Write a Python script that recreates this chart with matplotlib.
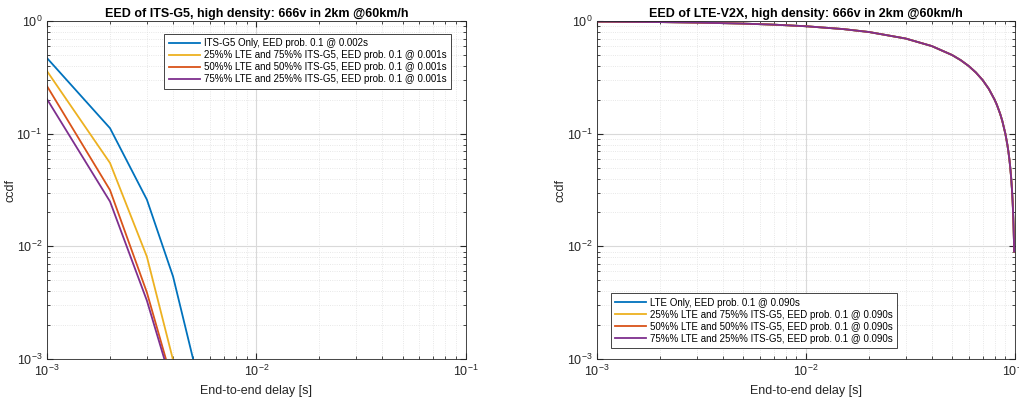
import numpy as np
from matplotlib import pyplot as plt

plt.rcParams['font.family'] = ['Liberation Sans', 'DejaVu Sans']

# MATLAB default line colours
colors = ['#0072BD', '#EDB120', '#D95319', '#7E2F8E']

# left panel: ITS-G5
x_its = [0.001, 0.002, 0.003, 0.004, 0.005]
its_only = [0.47, 0.112, 0.026, 0.0054, 0.00098]
its_25lte = [0.36, 0.055, 0.0081, 0.00098]
its_50lte = [0.265, 0.0316, 0.0039, 0.0006]
its_75lte = [0.203, 0.025, 0.0033, 0.00055]
labels_its = ['ITS-G5 Only, EED prob. 0.1 @ 0.002s',
              '25%% LTE and 75%% ITS-G5, EED prob. 0.1 @ 0.001s',
              '50%% LTE and 50%% ITS-G5, EED prob. 0.1 @ 0.001s',
              '75%% LTE and 25%% ITS-G5, EED prob. 0.1 @ 0.001s']

# right panel: LTE-V2X (all four curves coincide)
x_lte = [0.001, 0.002, 0.003, 0.005, 0.007, 0.01, 0.015, 0.02, 0.03, 0.04, 0.05,
         0.055, 0.06, 0.065, 0.07, 0.075, 0.08, 0.082, 0.085, 0.087, 0.09, 0.092,
         0.093, 0.094, 0.095, 0.096, 0.097, 0.0975, 0.098, 0.0985, 0.099, 0.0991]
lte_ccdf = [0.99, 0.98, 0.97, 0.95, 0.93, 0.90, 0.85, 0.80, 0.70, 0.60, 0.50,
            0.45, 0.40, 0.35, 0.30, 0.25, 0.20, 0.18, 0.15, 0.13, 0.10, 0.08,
            0.07, 0.06, 0.05, 0.04, 0.03, 0.025, 0.02, 0.015, 0.0105, 0.009]
labels_lte = ['LTE Only, EED prob. 0.1 @ 0.090s',
              '25%% LTE and 75%% ITS-G5, EED prob. 0.1 @ 0.090s',
              '50%% LTE and 50%% ITS-G5, EED prob. 0.1 @ 0.090s',
              '75%% LTE and 25%% ITS-G5, EED prob. 0.1 @ 0.090s']

fig = plt.figure(figsize=(10.19, 3.98), dpi=100)
ax1 = fig.add_axes([0.0461, 0.098, 0.411, 0.849])
ax2 = fig.add_axes([0.586, 0.098, 0.410, 0.849])


def style(ax, title):
    ax.set_xscale('log')
    ax.set_yscale('log')
    ax.set_xlim(1e-3, 1e-1)
    ax.set_ylim(1e-3, 1)
    ax.grid(True, which='major', color='#d9d9d9', linewidth=0.8)
    ax.grid(True, which='minor', color='#e0e0e0', linestyle=':', linewidth=0.6)
    ax.set_axisbelow(True)
    ax.tick_params(which='both', direction='in', top=True, right=True,
                   colors='#262626', labelsize=9)
    ax.tick_params(which='major', length=4)
    ax.tick_params(which='minor', length=2)
    for s in ax.spines.values():
        s.set_color('#262626')
        s.set_linewidth(0.6)
    ax.set_title(title, fontsize=9, fontweight='bold', pad=3)
    ax.set_xlabel('End-to-end delay [s]', fontsize=9, color='#262626')
    ax.set_ylabel('ccdf', fontsize=9, color='#262626', labelpad=0)


def legend(ax, **kw):
    leg = ax.legend(fontsize=7, fancybox=False, edgecolor='#262626', framealpha=1,
                    handlelength=3.2, borderpad=0.45, labelspacing=0.2,
                    handletextpad=0.4, **kw)
    leg.get_frame().set_linewidth(0.6)


style(ax1, 'EED of ITS-G5, high density: 666v in 2km @60km/h')
ax1.plot(x_its, its_only, color=colors[0], lw=1.3, label=labels_its[0])
ax1.plot(x_its[:4], its_25lte, color=colors[1], lw=1.3, label=labels_its[1])
ax1.plot(x_its[:4], its_50lte, color=colors[2], lw=1.3, label=labels_its[2])
ax1.plot(x_its[:4], its_75lte, color=colors[3], lw=1.3, label=labels_its[3])
legend(ax1, loc='upper right', bbox_to_anchor=(0.976, 0.976))

style(ax2, 'EED of LTE-V2X, high density: 666v in 2km @60km/h')
for c, lab in zip(colors, labels_lte):
    ax2.plot(x_lte, lte_ccdf, color=c, lw=1.3, label=lab)
legend(ax2, loc='lower left', bbox_to_anchor=(0.0215, 0.018))

fig.savefig('out.png', dpi=100)
